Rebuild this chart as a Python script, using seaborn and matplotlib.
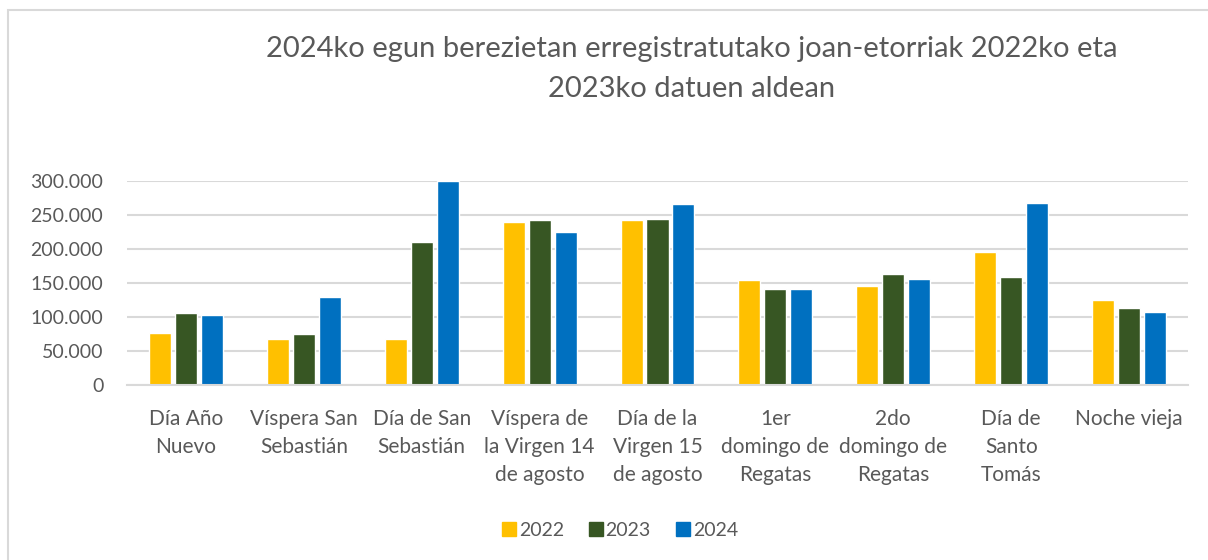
import pandas as pd
import matplotlib
matplotlib.use("Agg")
import matplotlib.pyplot as plt
import matplotlib.patches as mpatches
import seaborn as sns

# chart data
categories = [
    "Día Año\nNuevo",
    "Víspera San\nSebastián",
    "Día de San\nSebastián",
    "Víspera de\nla Virgen 14\nde agosto",
    "Día de la\nVirgen 15\nde agosto",
    "1er\ndomingo de\nRegatas",
    "2do\ndomingo de\nRegatas",
    "Día de\nSanto\nTomás",
    "Noche vieja",
]
years = ["2022", "2023", "2024"]
values_2022 = [76400, 67000, 68000, 239300, 242300, 154700, 146300, 195800, 125300]
values_2023 = [105700, 74400, 210900, 242700, 244200, 141900, 163500, 158100, 113500]
values_2024 = [102800, 129200, 300000, 225600, 266700, 141400, 156100, 267700, 107200]
y_ticks = [0, 50000, 100000, 150000, 200000, 250000, 300000]
y_tick_labels = ["0", "50.000", "100.000", "150.000", "200.000", "250.000", "300.000"]
title = "2024ko egun berezietan erregistratutako joan-etorriak 2022ko eta\n2023ko datuen aldean"

colors = ["#FFC000", "#375623", "#0070C0"]
text_color = "#595959"
grid_color = "#D9D9D9"

# long format for seaborn
df = pd.DataFrame({
    "categoria": categories * 3,
    "urtea": [y for y in years for _ in categories],
    "balioa": values_2022 + values_2023 + values_2024,
})

sns.set_theme(style="white")
plt.rcParams["font.family"] = ["Lato", "DejaVu Sans"]

fig = plt.figure(figsize=(12.08, 5.6), dpi=100)
ax = fig.add_axes([127 / 1208, 1 - 385 / 560, (1188 - 127) / 1208, (385 - 181) / 560])

sns.barplot(data=df, x="categoria", y="balioa", hue="urtea", order=categories,
            hue_order=years, palette=colors, width=0.66, gap=0.15,
            saturation=1, legend=False, ax=ax)

ax.set_ylim(0, 300000)
ax.set_xlim(-0.5, len(categories) - 0.5)
ax.set_yticks(y_ticks)
ax.set_yticklabels(y_tick_labels)
ax.yaxis.grid(True, color=grid_color, linewidth=1.5)
ax.set_axisbelow(True)
ax.set_xlabel("")
ax.set_ylabel("")
ax.tick_params(axis="y", length=0, pad=17, labelsize=14, labelcolor=text_color)
ax.tick_params(axis="x", length=0, pad=17, labelsize=15, labelcolor=text_color)
for lbl in ax.get_xticklabels():
    lbl.set_linespacing(1.5)
    lbl.set_verticalalignment("top")
for side in ["top", "right", "left"]:
    ax.spines[side].set_visible(False)
ax.spines["bottom"].set_color(grid_color)
ax.spines["bottom"].set_linewidth(1.5)

fig.text(692 / 1208, 1 - 36 / 560, title, ha="center", va="top",
         fontsize=21, color=text_color, linespacing=1.65)

handles = [mpatches.Patch(color=c, label=y) for c, y in zip(colors, years)]
fig.legend(handles=handles, loc="center", bbox_to_anchor=(620 / 1208, 1 - 530 / 560),
           ncol=3, frameon=False, fontsize=14, labelcolor=text_color,
           handlelength=0.7, handleheight=0.7, handletextpad=0.15, columnspacing=1.3)

# chart area border (only left and top edges are visible in the crop)
border = mpatches.Rectangle((8 / 1208, -0.1), 1.2, 1 - 10 / 560 + 0.1,
                            transform=fig.transFigure, fill=False,
                            edgecolor=grid_color, linewidth=1.5)
fig.patches.append(border)

fig.savefig("out.png", dpi=100)
